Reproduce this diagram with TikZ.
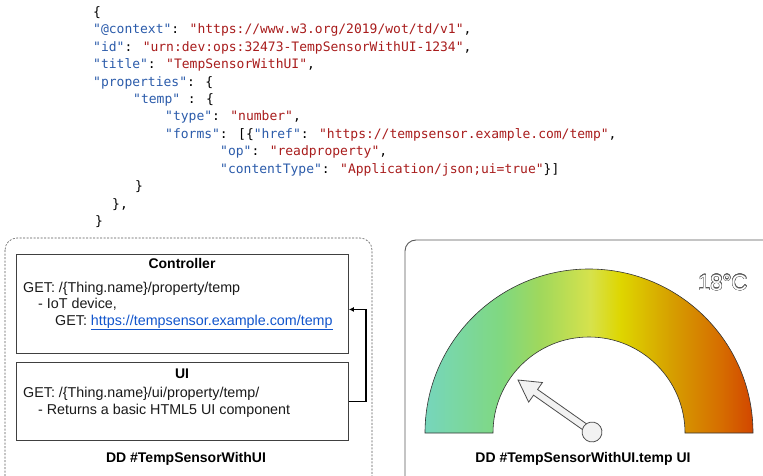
\documentclass[tikz,border=0pt]{standalone}
\usepackage{fontspec}
\setmainfont{Liberation Sans}
\newfontfamily\jsonfont{DejaVu Sans Mono}
\usepackage{xcolor}
\usepackage[copies]{contour}
\usetikzlibrary{arrows.meta}

\definecolor{jkey}{HTML}{2B5BAA}
\definecolor{jstr}{HTML}{A81C1C}
\definecolor{linkblue}{HTML}{1155CC}
\definecolor{g1}{RGB}{118,214,188}
\definecolor{g2}{RGB}{128,216,128}
\definecolor{g3}{RGB}{160,216,92}
\definecolor{g4}{RGB}{214,226,76}
\definecolor{g5}{RGB}{222,214,0}
\definecolor{g6}{RGB}{214,160,0}
\definecolor{g7}{RGB}{214,110,0}
\definecolor{g8}{RGB}{210,70,0}

\pgfdeclarehorizontalshading{heat}{100bp}{color(0bp)=(g1); color(25bp)=(g1);
  color(36.6bp)=(g2); color(42.6bp)=(g3); color(50.2bp)=(g4); color(54.8bp)=(g5);
  color(62.4bp)=(g6); color(70bp)=(g7); color(75bp)=(g8); color(100bp)=(g8)}

\newcommand\jk[1]{\textcolor{jkey}{"#1"}}
\newcommand\js[1]{\textcolor{jstr}{"#1"}}

\contourlength{0.45pt}

\begin{document}
\begin{tikzpicture}[x=1pt,y=-1pt,
  code/.style={anchor=base west,inner sep=0,font=\jsonfont\fontsize{13}{15}\selectfont},
  txt/.style={anchor=base west,inner sep=0,text=black!90,font=\fontsize{14.3}{16.5}\selectfont},
  ttl/.style={anchor=base,inner sep=0,font=\bfseries\fontsize{14}{16}\selectfont},
  box/.style={draw=black!75,line width=0.9pt,anchor=north west,inner sep=0,minimum width=332pt},
  conn/.style={line width=1.6pt,-{Latex[length=5pt,width=5pt]}},
  gauge/.style={draw=black!80,line width=0.6pt,shading=heat},
  needle/.style={draw=black!70,fill=black!5,line width=0.8pt}]
%\draw[step=50,gray,very thin] (0,0) grid (763,476); %background grid
\useasboundingbox (0,0) rectangle (763,476);

% thing description
\node[code] (j0) at (93,16.6) {\{};
\node[code] (j1) at (93,34) {\jk{@context}: \js{https://www.w3.org/2019/wot/td/v1},};
\node[code] (j2) at (93,51.4) {\jk{id}: \js{urn:dev:ops:32473-TempSensorWithUI-1234},};
\node[code] (j3) at (93,68.8) {\jk{title}: \js{TempSensorWithUI},};
\node[code] (j4) at (93,86.2) {\jk{properties}: \{};
\node[code] (j5) at (133,103.6) {\jk{temp} : \{};
\node[code] (j6) at (165,121) {\jk{type}: \js{number},};
\node[code] (j7) at (165,138.4) {\jk{forms}: [\{\jk{href}: \js{https://tempsensor.example.com/temp},};
\node[code] (j8) at (220,155.8) {\jk{op}: \js{readproperty},};
\node[code] (j9) at (220,173.2) {\jk{contentType}: \js{Application/json;ui=true}\}]};
\node[code] (j10) at (135,190.6) {\}};
\node[code] (j11) at (112,208) {\},};
\node[code] (j12) at (95,225.4) {\}};

% device description
\draw[black!65,line width=0.6pt,dash pattern=on 2pt off 1.5pt,rounded corners=12pt] (5,238) rectangle (372,490);

\node[box,minimum height=99pt] (ctrl) at (16,254) {};
\node[ttl] (ctrltitle) at (182,268) {Controller};
\node[txt] (c1) at (23,292) {GET: /\{Thing.name\}/property/temp};
\node[txt] (c2) at (38,308.5) {- IoT device,};
\node[txt] (c3) at (55,325) {GET: \textcolor{linkblue}{\underline{https://tempsensor.example.com/temp}}};

\node[box,minimum height=78pt] (ui) at (16,362) {};
\node[ttl] (uititle) at (182,378) {UI};
\node[txt] (u1) at (23,397) {GET: /\{Thing.name\}/ui/property/temp/};
\node[txt] (u2) at (38,414.5) {- Returns a basic HTML5 UI component};

\draw[conn] (ui.east) -- ++(17,0) |- ([yshift=-5.5pt]ctrl.east);

\node[ttl] (dd) at (186,462) {DD \#TempSensorWithUI};

% rendered ui component
\draw[black!65,line width=0.9pt,rounded corners=11pt] (405,240) rectangle (780,490);

\coordinate (gc) at (589,433);
\draw[gauge] ([xshift=-164pt]gc) arc[start angle=180,end angle=0,radius=164pt]
  -- ([xshift=96pt]gc) arc[start angle=0,end angle=180,radius=96pt] -- cycle;

\begin{scope}[shift={(592,432)},rotate=144.9]
\draw[needle] (0,-3.5) -- (69,-3.5) -- (69,-12) -- (90.4,0) -- (69,12) -- (69,3.5) -- (0,3.5) -- cycle;
\draw[needle] (0,0) circle (10pt);
\end{scope}

\node[anchor=base west,inner sep=0,font=\fontsize{22}{24}\selectfont] (temp) at (698,290)
  {\contour{black!65}{\textcolor{white}{18°C}}};

\node[ttl] (ddui) at (583,462) {DD \#TempSensorWithUI.temp UI};
\end{tikzpicture}
\end{document}
